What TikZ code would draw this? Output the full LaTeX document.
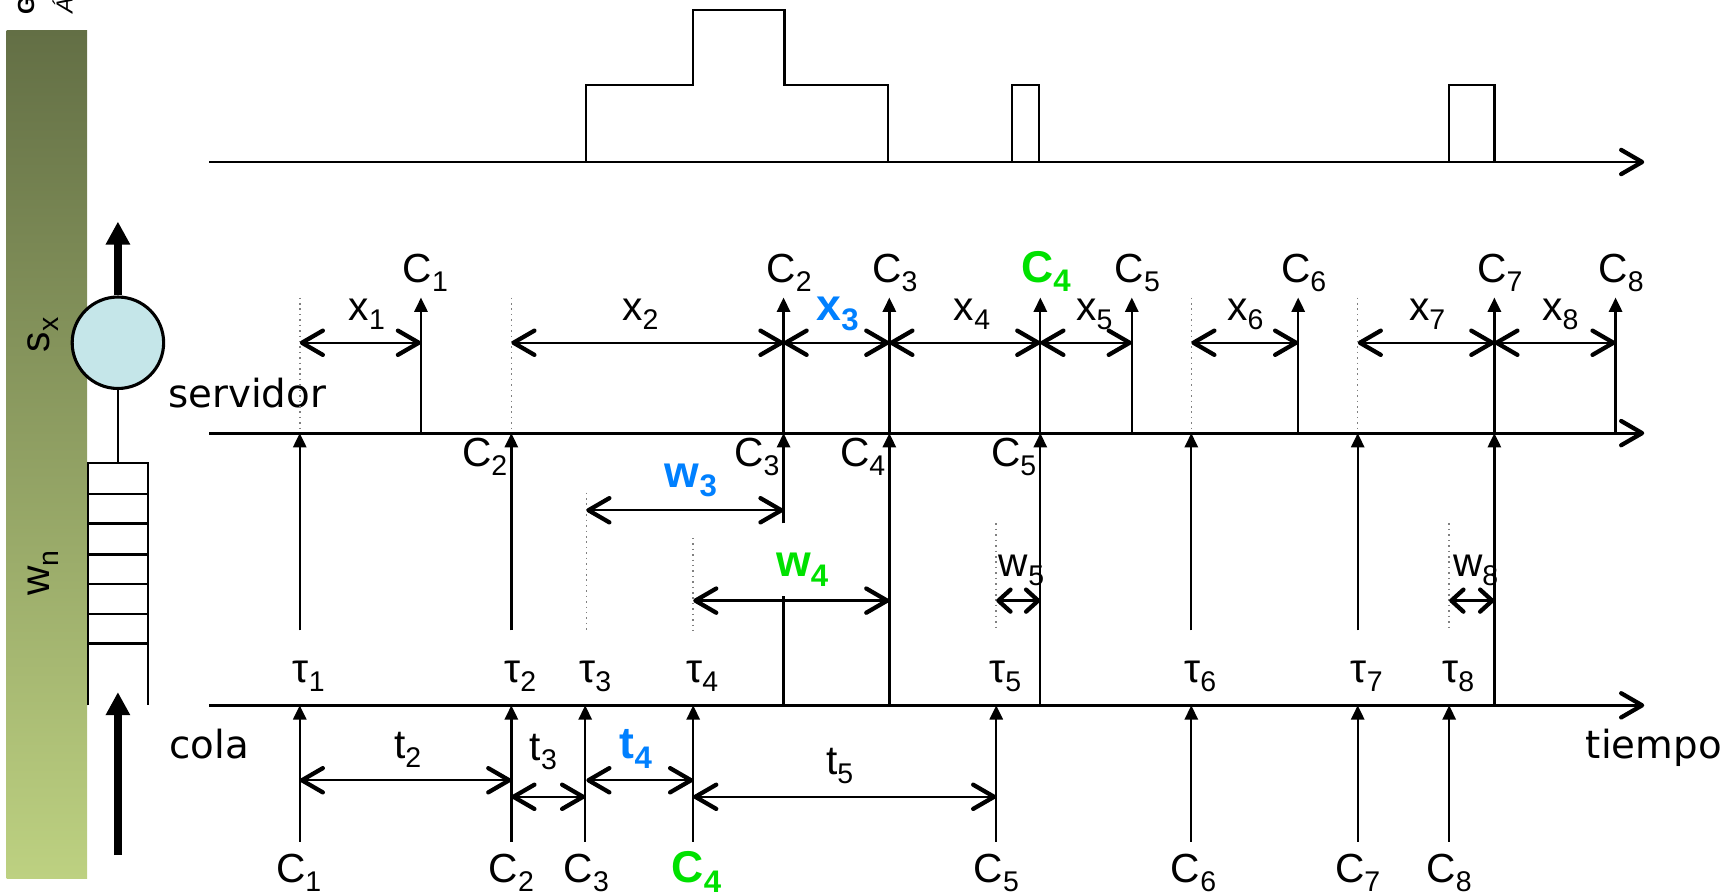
\documentclass[tikz,border=0pt]{standalone}
\usepackage{fontspec}
\usepackage{graphicx}
\setmainfont{Liberation Sans}
\newfontfamily\handfont{DejaVu Sans}
\usetikzlibrary{arrows.meta,positioning}
\definecolor{barTop}{RGB}{99,111,69}
\definecolor{barBottom}{RGB}{189,209,129}
\definecolor{serverFill}{RGB}{197,230,233}
\definecolor{markBlue}{RGB}{0,128,255}
\definecolor{markGreen}{RGB}{0,225,0}
\newcommand{\lbl}[2]{#1\raisebox{-.22em}{\scalebox{.7}{#2}}}
\tikzset{
  chev/.tip={Straight Barb[length=1.9mm,width=2.2mm,line width=1.1pt,round]},
  smallChev/.tip={Straight Barb[length=1.1mm,width=2.0mm,line width=1.1pt,round]},
  upTip/.tip={Triangle[length=1.3mm,width=1.2mm]},
  bigTip/.tip={Triangle[length=2.1mm,width=2.1mm]},
  axisline/.style={line width=0.75pt,-chev},
  interval/.style={line width=0.6pt,chev-chev},
  shortinterval/.style={line width=0.6pt,smallChev-smallChev},
  jobline/.style={line width=0.6pt,-upTip},
  plainline/.style={line width=0.6pt},
  guide/.style={densely dotted,gray,line width=0.4pt},
  fatarrow/.style={line width=2.1pt,-bigTip},
  lab/.style={inner sep=0pt,font=\fontsize{10.5}{13}\selectfont},
  hilite/.style={inner sep=0pt,font=\fontsize{11.5}{13}\selectfont\bfseries},
  word/.style={inner sep=0pt,font=\handfont\fontsize{10}{12}\selectfont}
}

\begin{document}
\begin{tikzpicture}[x=0.1mm,y=-0.1mm]
  \clip (0,0) rectangle (1568,812);

  % Bar on the left
  \shade[top color=barTop,bottom color=barBottom] (6,28) rectangle (79,797);
  \node[lab,rotate=90] (sx) at (39,304) {\lbl{s}{x}};
  \node[lab,rotate=90] (wn) at (39,520) {\lbl{w}{n}};
  \node[inner sep=0pt,rotate=90,anchor=base west,font=\fontsize{6}{7}\selectfont\bfseries] (titleG) at (31,14) {G};
  \node[inner sep=0pt,rotate=90,anchor=base west,font=\fontsize{6}{7}\selectfont\itshape] (titleA) at (66,13) {Á};

  % Server
  \node[circle,draw,line width=0.8pt,fill=serverFill,minimum size=8.3mm,inner sep=0pt] (srv) at (107,311) {};
  \coordinate (srvOut) at (107,201);
  \draw[fatarrow] (srv.north) -- (srvOut);
  \coordinate (qTop) at (107,420);
  \draw[plainline] (srv.south) -- (qTop);

  % Queue
  \draw[plainline] (80,640) -- (80,420) -- (134,420) -- (134,640);
  \foreach \y in {448,475,503,530,557,584} \draw[plainline] (80,\y) -- (134,\y);
  \coordinate (qIn) at (107,776);
  \coordinate (qInTip) at (107,628);
  \draw[fatarrow] (qIn) -- (qInTip);

  % Axes
  \draw[axisline] (190,147) -- (1492,147);
  \draw[axisline] (190,393) -- (1492,393);
  \draw[axisline] (190,640) -- (1492,640);
  \node[word,anchor=base west] (servidor) at (152,370) {servidor};
  \node[word,anchor=base west] (cola) at (153,688) {cola};
  \node[word,anchor=base east] (tiempo) at (1563,688) {tiempo};

  % Number waiting
  \draw[plainline] (532,147) -- (532,77) -- (629,77) -- (629,9) -- (712,9) -- (712,77) -- (806,77) -- (806,147);
  \draw[plainline] (918,147) -- (918,77) -- (943,77) -- (943,147);
  \draw[plainline] (1315,147) -- (1315,77) -- (1356,77) -- (1356,147);

  % Leaving the server
  \foreach \x in {382,711,807,944,1027,1178,1356,1466} \draw[jobline] (\x,393) -- (\x,270);

  % Entering the server
  \foreach \x in {272,464,1081,1232} \draw[jobline] (\x,572) -- (\x,393);
  \foreach \x in {807,944,1356} \draw[jobline] (\x,640) -- (\x,393);
  \draw[jobline] (711,475) -- (711,393);
  \draw[plainline] (711,640) -- (711,541);

  % Arriving at the queue
  \foreach \x in {272,464,531,629,904,1081,1232,1315} \draw[jobline] (\x,764) -- (\x,640);

  % Dotted marks
  \foreach \x in {272,464,1081,1232} \draw[guide] (\x,270) -- (\x,393);
  \draw[guide] (532,447) -- (532,572);
  \draw[guide] (629,488) -- (629,572);
  \draw[guide] (904,475) -- (904,572);
  \draw[guide] (1315,475) -- (1315,572);

  % Service times
  \draw[interval] (272,311) -- (382,311);
  \draw[interval] (464,311) -- (711,311);
  \draw[interval] (711,311) -- (807,311);
  \draw[interval] (807,311) -- (944,311);
  \draw[interval] (944,311) -- (1027,311);
  \draw[interval] (1081,311) -- (1178,311);
  \draw[interval] (1232,311) -- (1356,311);
  \draw[interval] (1356,311) -- (1466,311);
  \node[lab,anchor=base] (x1) at (333,291) {\lbl{x}{1}};
  \node[lab,anchor=base] (x2) at (581,291) {\lbl{x}{2}};
  \node[hilite,anchor=base,text=markBlue] (x3) at (760,291) {\lbl{x}{3}};
  \node[lab,anchor=base] (x4) at (882,291) {\lbl{x}{4}};
  \node[lab,anchor=base] (x5) at (993,291) {\lbl{x}{5}};
  \node[lab,anchor=base] (x6) at (1130,291) {\lbl{x}{6}};
  \node[lab,anchor=base] (x7) at (1295,291) {\lbl{x}{7}};
  \node[lab,anchor=base] (x8) at (1416,291) {\lbl{x}{8}};

  % Waiting times
  \draw[interval] (532,463) -- (711,463);
  \draw[interval] (629,545) -- (807,545);
  \draw[shortinterval] (904,545) -- (944,545);
  \draw[shortinterval] (1315,545) -- (1356,545);
  \node[hilite,anchor=base,text=markBlue] (w3) at (627,442) {\lbl{w}{3}};
  \node[hilite,anchor=base,text=markGreen] (w4) at (728,523) {\lbl{w}{4}};
  \node[lab,anchor=base] (w5) at (927,523) {\lbl{w}{5}};
  \node[lab,anchor=base] (w8) at (1339,523) {\lbl{w}{8}};

  % Interarrival times
  \draw[interval] (272,708) -- (464,708);
  \draw[interval] (464,723) -- (531,723);
  \draw[interval] (532,708) -- (629,708);
  \draw[interval] (629,723) -- (904,723);
  \node[lab,anchor=base] (t2) at (370,688) {\lbl{t}{2}};
  \node[lab,anchor=base] (t3) at (493,690) {\lbl{t}{3}};
  \node[hilite,anchor=base,text=markBlue] (t4) at (577,688) {\lbl{t}{4}};
  \node[lab,anchor=base] (t5) at (762,703) {\lbl{t}{5}};

  % Customers leaving
  \node[lab,anchor=base] (out1) at (386,256) {\lbl{C}{1}};
  \node[lab,anchor=base] (out2) at (716,256) {\lbl{C}{2}};
  \node[lab,anchor=base] (out3) at (812,256) {\lbl{C}{3}};
  \node[hilite,anchor=base,text=markGreen] (out4) at (949,256) {\lbl{C}{4}};
  \node[lab,anchor=base] (out5) at (1032,256) {\lbl{C}{5}};
  \node[lab,anchor=base] (out6) at (1183,256) {\lbl{C}{6}};
  \node[lab,anchor=base] (out7) at (1361,256) {\lbl{C}{7}};
  \node[lab,anchor=base] (out8) at (1471,256) {\lbl{C}{8}};

  % Customers served
  \node[lab,anchor=base east] (in2) at (461,423) {\lbl{C}{2}};
  \node[lab,anchor=base east] (in3) at (708,423) {\lbl{C}{3}};
  \node[lab,anchor=base east] (in4) at (804,423) {\lbl{C}{4}};
  \node[lab,anchor=base east] (in5) at (941,423) {\lbl{C}{5}};

  % Arrival instants
  \node[lab,anchor=base west] (tau1) at (265,619) {\lbl{τ}{1}};
  \node[lab,anchor=base west] (tau2) at (457,619) {\lbl{τ}{2}};
  \node[lab,anchor=base west] (tau3) at (525,619) {\lbl{τ}{3}};
  \node[lab,anchor=base west] (tau4) at (622,619) {\lbl{τ}{4}};
  \node[lab,anchor=base west] (tau5) at (897,619) {\lbl{τ}{5}};
  \node[lab,anchor=base west] (tau6) at (1074,619) {\lbl{τ}{6}};
  \node[lab,anchor=base west] (tau7) at (1225,619) {\lbl{τ}{7}};
  \node[lab,anchor=base west] (tau8) at (1308,619) {\lbl{τ}{8}};

  % Customers arriving
  \node[lab,anchor=base] (arr1) at (271,801) {\lbl{C}{1}};
  \node[lab,anchor=base] (arr2) at (464,801) {\lbl{C}{2}};
  \node[lab,anchor=base] (arr3) at (532,801) {\lbl{C}{3}};
  \node[hilite,anchor=base,text=markGreen] (arr4) at (632,801) {\lbl{C}{4}};
  \node[lab,anchor=base] (arr5) at (904,801) {\lbl{C}{5}};
  \node[lab,anchor=base] (arr6) at (1083,801) {\lbl{C}{6}};
  \node[lab,anchor=base] (arr7) at (1232,801) {\lbl{C}{7}};
  \node[lab,anchor=base] (arr8) at (1315,801) {\lbl{C}{8}};
\end{tikzpicture}
\end{document}
